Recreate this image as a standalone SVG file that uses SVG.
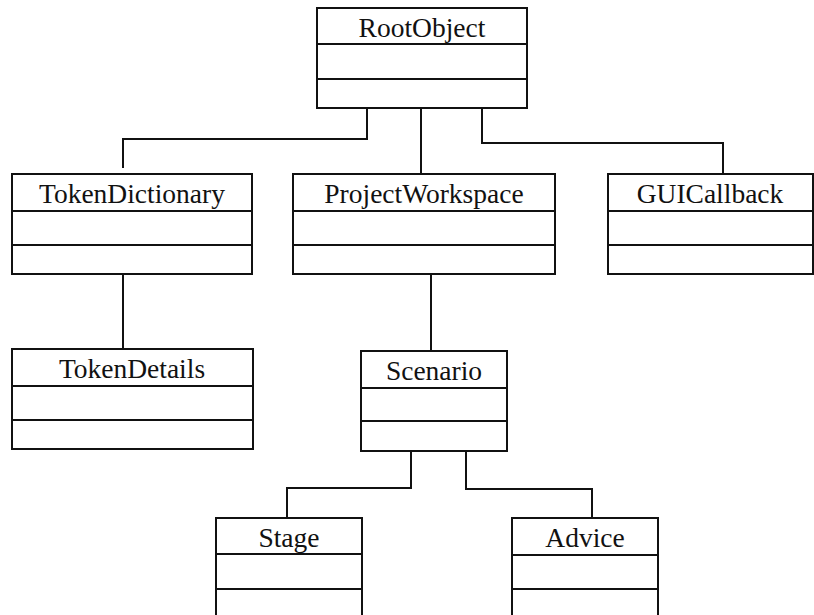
<svg xmlns="http://www.w3.org/2000/svg" width="814" height="615" viewBox="0 0 814 615">
<style>
.box{fill:#fff;stroke:#111;stroke-width:2}
.div{stroke:#111;stroke-width:2}
.lbl{font-family:"Liberation Serif","Times New Roman",serif;font-size:27.5px;fill:#111;text-anchor:middle}
.conn{fill:none;stroke:#111;stroke-width:2}
</style>
<rect width="814" height="615" fill="#fff"/>
<g id="connectors">
<path class="conn" d="M367 108 V139 H123 V168"/>
<path class="conn" d="M421 108 V174"/>
<path class="conn" d="M482 108 V143 H723 V174"/>
<path class="conn" d="M123 274 V349"/>
<path class="conn" d="M431 274 V351"/>
<path class="conn" d="M411 451 V488 H287 V518"/>
<path class="conn" d="M466 451 V489 H592 V518"/>
</g>
<g id="RootObject">
<rect class="box" x="317" y="8" width="210" height="100"/>
<line class="div" x1="316" y1="44" x2="528" y2="44"/>
<line class="div" x1="316" y1="79" x2="528" y2="79"/>
<text class="lbl" x="422" y="37">RootObject</text>
</g>
<g id="TokenDictionary">
<rect class="box" x="12" y="174" width="240" height="100"/>
<line class="div" x1="11" y1="211" x2="253" y2="211"/>
<line class="div" x1="11" y1="245" x2="253" y2="245"/>
<text class="lbl" x="132" y="203">TokenDictionary</text>
</g>
<g id="ProjectWorkspace">
<rect class="box" x="293" y="174" width="262" height="100"/>
<line class="div" x1="292" y1="211" x2="556" y2="211"/>
<line class="div" x1="292" y1="245" x2="556" y2="245"/>
<text class="lbl" x="424" y="203">ProjectWorkspace</text>
</g>
<g id="GUICallback">
<rect class="box" x="608" y="174" width="205" height="100"/>
<line class="div" x1="607" y1="211" x2="814" y2="211"/>
<line class="div" x1="607" y1="245" x2="814" y2="245"/>
<text class="lbl" x="710" y="203">GUICallback</text>
</g>
<g id="TokenDetails">
<rect class="box" x="12" y="349" width="241" height="100"/>
<line class="div" x1="11" y1="386" x2="254" y2="386"/>
<line class="div" x1="11" y1="420" x2="254" y2="420"/>
<text class="lbl" x="132" y="378">TokenDetails</text>
</g>
<g id="Scenario">
<rect class="box" x="361" y="351" width="146" height="100"/>
<line class="div" x1="360" y1="388" x2="508" y2="388"/>
<line class="div" x1="360" y1="421" x2="508" y2="421"/>
<text class="lbl" x="434" y="380">Scenario</text>
</g>
<g id="Stage">
<rect class="box" x="216" y="518" width="146" height="100"/>
<line class="div" x1="215" y1="554" x2="363" y2="554"/>
<line class="div" x1="215" y1="589" x2="363" y2="589"/>
<text class="lbl" x="289" y="547">Stage</text>
</g>
<g id="Advice">
<rect class="box" x="512" y="518" width="146" height="100"/>
<line class="div" x1="511" y1="555" x2="659" y2="555"/>
<line class="div" x1="511" y1="589" x2="659" y2="589"/>
<text class="lbl" x="585" y="547">Advice</text>
</g>
</svg>
